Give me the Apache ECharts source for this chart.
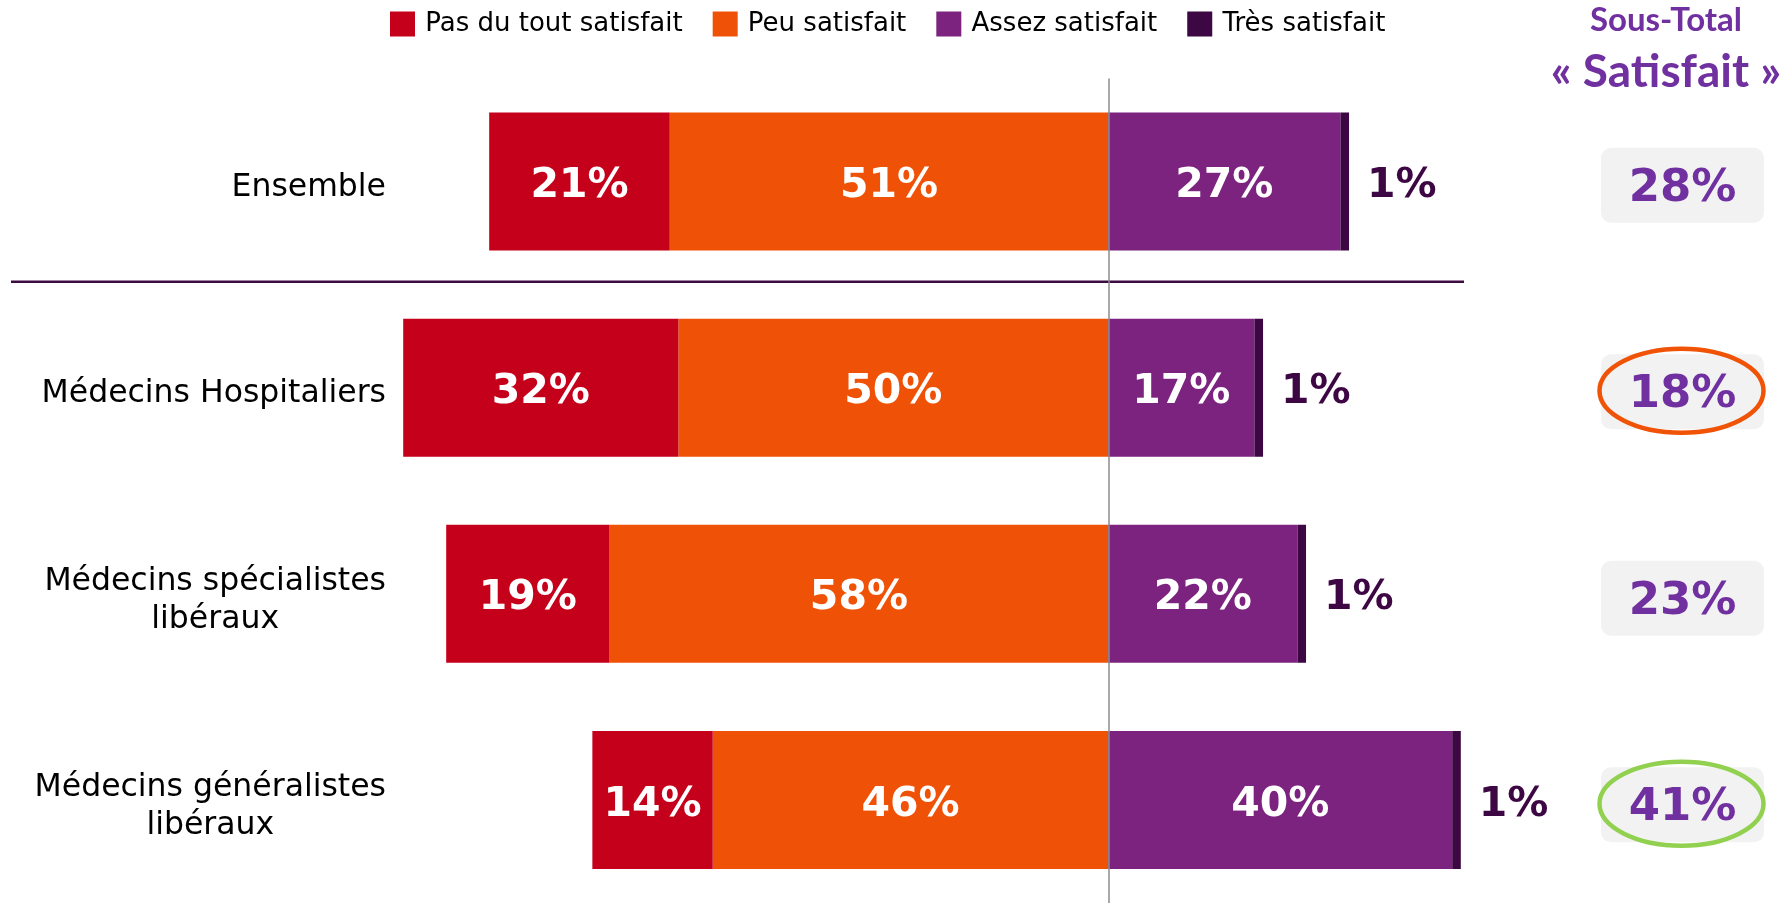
<!DOCTYPE html>
<html>
<head>
<meta charset="utf-8">
</head>
<body style="margin: 0">
	<div id="container" style="width: 1789px; height: 903px"></div>

	<script src="https://cdn.jsdelivr.net/npm/echarts@6/dist/echarts.min.js"></script>
	<script type="text/javascript">
		// données
		var categories = ['Ensemble', 'Médecins Hospitaliers', 'Médecins spécialistes\nlibéraux', 'Médecins généralistes\nlibéraux'];
		var pasDuTout = [21, 32, 19, 14];
		var peu = [51, 50, 58, 46];
		var assez = [27, 17, 22, 40];
		var tres = [1, 1, 1, 1];
		var sousTotal = [28, 18, 23, 41];
		// cercles de mise en avant autour du sous-total
		var entoure = [null, '#F05206', null, '#92D050'];

		var noms = ['Pas du tout satisfait', 'Peu satisfait', 'Assez satisfait', 'Très satisfait'];
		var couleurs = ['#C5001A', '#EF5206', '#7B237E', '#3D0743'];

		var police = 'DejaVu Sans';

		var dom = document.getElementById('container');
		var myChart = echarts.init(dom);

		function neg(arr) {
			return arr.map(function (v) { return -v; });
		}

		var labelBarre = {
			show : true,
			position : 'inside',
			offset : [0, 5],
			color : '#fff',
			fontFamily : police,
			fontWeight : 'bold',
			fontSize : 41,
			formatter : function (p) { return Math.abs(p.value) + '%'; }
		};

		var option = {
			animation : false,
			title : {
				text : '{a|Sous-Total}\n{b|« Satisfait »}',
				left : 1666,
				top : 0,
				padding : 0,
				textAlign : 'center',
				textStyle : {
					rich : {
						a : { fontFamily : 'Lato', fontWeight : 'bold', fontSize : 33, lineHeight : 40, color : '#7030A0', align : 'center' },
						b : { fontFamily : 'Lato', fontWeight : 'bold', fontSize : 46, lineHeight : 64, color : '#7030A0', align : 'center' }
					}
				}
			},
			legend : {
				data : noms,
				left : 385,
				top : 6,
				itemWidth : 25,
				itemHeight : 25,
				itemGap : 30,
				icon : 'rect',
				formatter : function (name) { return '\u2009' + name; },
				textStyle : { fontFamily : police, fontSize : 26, color : '#000' }
			},
			grid : [
				{ left : 386, width : 1135, top : 78.5, height : 828 },
				{ left : 1601, width : 163, top : 77, height : 828 }
			],
			xAxis : [
				{ gridIndex : 0, type : 'value', min : -84, max : 48, show : false },
				{ gridIndex : 1, type : 'value', min : 0, max : 100, show : false }
			],
			yAxis : [
				{
					gridIndex : 0,
					type : 'category',
					data : categories,
					inverse : true,
					axisLine : { show : false },
					axisTick : { show : false },
					axisLabel : {
						margin : 0,
						align : 'right',
						padding : [13, 0, 0, 0],
						formatter : function (v) {
							return v.split('\n').map(function (l) { return '{c|' + l + '}'; }).join('\n');
						},
						rich : {
							c : { fontFamily : police, fontSize : 31.5, lineHeight : 38, color : '#000', align : 'center' }
						}
					}
				},
				{ gridIndex : 1, type : 'category', data : categories, inverse : true, show : false }
			],
			series : [
				{
					name : noms[1], type : 'bar', stack : 'total', barWidth : 138,
					itemStyle : { color : couleurs[1] },
					label : labelBarre,
					data : neg(peu),
					markLine : {
						silent : true,
						symbol : ['none', 'none'],
						label : { show : false },
						lineStyle : { color : '#8C8C8C', width : 1.5, type : 'solid' },
						data : [ { xAxis : 0 } ]
					}
				},
				{
					name : noms[0], type : 'bar', stack : 'total', barWidth : 138,
					itemStyle : { color : couleurs[0] },
					label : labelBarre,
					data : neg(pasDuTout)
				},
				{
					name : noms[2], type : 'bar', stack : 'total', barWidth : 138,
					itemStyle : { color : couleurs[2] },
					label : labelBarre,
					data : assez
				},
				{
					name : noms[3], type : 'bar', stack : 'total', barWidth : 138,
					itemStyle : { color : couleurs[3] },
					label : {
						show : true,
						position : 'right',
						distance : 18,
						offset : [0, 5],
						color : '#3D0743',
						fontFamily : police,
						fontWeight : 'bold',
						fontSize : 41,
						formatter : '{c}%'
					},
					data : tres
				},
				{
					name : 'Sous-Total',
					type : 'custom',
					xAxisIndex : 1,
					yAxisIndex : 1,
					clip : false,
					data : sousTotal.map(function (v, i) { return [v, i]; }),
					renderItem : function (params, api) {
						var i = api.value(1);
						var g = api.coord([0, i]);
						var d = api.coord([100, i]);
						var w = d[0] - g[0];
						var cy = g[1] + 5;
						var cx = g[0] + w / 2;
						var enfants = [
							{ type : 'rect', shape : { x : g[0], y : cy - 37.5, width : w, height : 75, r : 10 }, style : { fill : '#F2F2F2' } },
							{ type : 'text', style : { x : cx, y : cy + 4, text : api.value(0) + '%', fill : '#7030A0', font : 'bold 45px "DejaVu Sans"', align : 'center', verticalAlign : 'middle' } }
						];
						if (entoure[i]) {
							enfants.push({ type : 'ellipse', shape : { cx : cx - 1, cy : cy - 1, rx : 82, ry : 42 }, style : { fill : 'none', stroke : entoure[i], lineWidth : 4.5 } });
						}
						return { type : 'group', children : enfants };
					}
				}
			]
		};

		myChart.setOption(option);

		// trait de séparation entre "Ensemble" et les sous-groupes
		var y0 = myChart.convertToPixel({ yAxisIndex : 0 }, categories[0]);
		var y1 = myChart.convertToPixel({ yAxisIndex : 0 }, categories[1]);
		myChart.setOption({
			graphic : [ {
				type : 'line',
				shape : { x1 : 11, y1 : (y0 + y1) / 2 - 3, x2 : 1464, y2 : (y0 + y1) / 2 - 3 },
				style : { stroke : '#3D0A42', lineWidth : 2.5 }
			} ]
		});
	</script>
</body>
</html>
